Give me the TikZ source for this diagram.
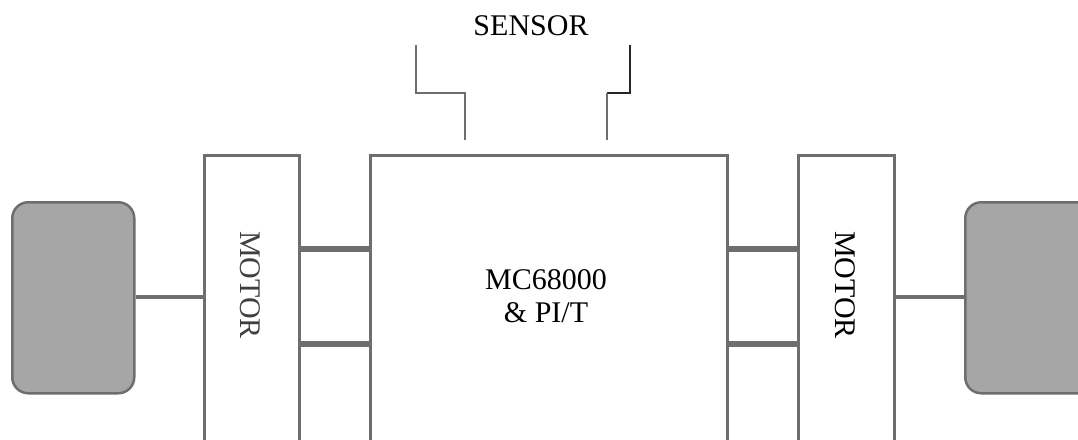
\documentclass[tikz,border=0pt]{standalone}
\usepackage{fontspec}
\setmainfont{Liberation Serif}
\definecolor{edge}{HTML}{6E6E6E}
\definecolor{wheelfill}{HTML}{A6A6A6}
\begin{document}
\begin{tikzpicture}[x=1pt,y=-1pt,
  box/.style={draw=edge,line width=3.2pt,fill=white,inner sep=0pt,anchor=north west},
  wheel/.style={draw=edge,line width=2.5pt,fill=wheelfill,rounded corners=16pt,inner sep=0pt,anchor=north west},
  thin/.style={draw=edge,line width=3.5pt},
  bus/.style={draw=edge,line width=5.5pt},
  sens/.style={draw=edge,line width=2.4pt},
  lbl/.style={font=\fontsize{30}{35}\selectfont,align=center}]
\useasboundingbox (0,0) rectangle (1078,439);
\clip (0,0) rectangle (1078,439);
% wheels
\node[wheel,minimum width=122pt,minimum height=191pt] (wl) at (11,201) {};
\node[wheel,minimum width=140pt,minimum height=191pt] (wr) at (964,201) {};
% motors and controller (bottom open, extends past the edge)
\node[box,minimum width=95pt,minimum height=320pt] (ml) at (203,154) {};
\node[box,minimum width=357pt,minimum height=320pt] (mc) at (369,154) {};
\node[box,minimum width=96pt,minimum height=320pt] (mr) at (797,154) {};
% labels
\node[lbl,text=black!75,rotate=-90] (tl) at (250.5,285) {MOTOR};
\node[lbl,rotate=-90] (tr) at (845,285) {MOTOR};
\node[lbl] (tc) at (546,296) {MC68000\\[-2pt]\& PI/T};
\node[lbl] (ts) at (531,26) {SENSOR};
% connectors
\draw[thin] (wl.east |- 0,297) -- (ml.west |- 0,297);
\draw[thin] (mr.east |- 0,297) -- (wr.west |- 0,297);
\draw[bus] (ml.east |- 0,249) -- (mc.west |- 0,249);
\draw[bus] (ml.east |- 0,344) -- (mc.west |- 0,344);
\draw[bus] (mc.east |- 0,249) -- (mr.west |- 0,249);
\draw[bus] (mc.east |- 0,344) -- (mr.west |- 0,344);
% sensor leads
\coordinate (s1) at (416,45);
\coordinate (s2) at (465,140);
\coordinate (s3) at (630,45);
\coordinate (s4) at (607,140);
\draw[sens] (s1) |- (465,93) -- (s2);
\draw[draw=black!85,line width=2.4pt] (s3) |- (607,93);
\draw[sens] (607,93) -- (s4);
\end{tikzpicture}
\end{document}
